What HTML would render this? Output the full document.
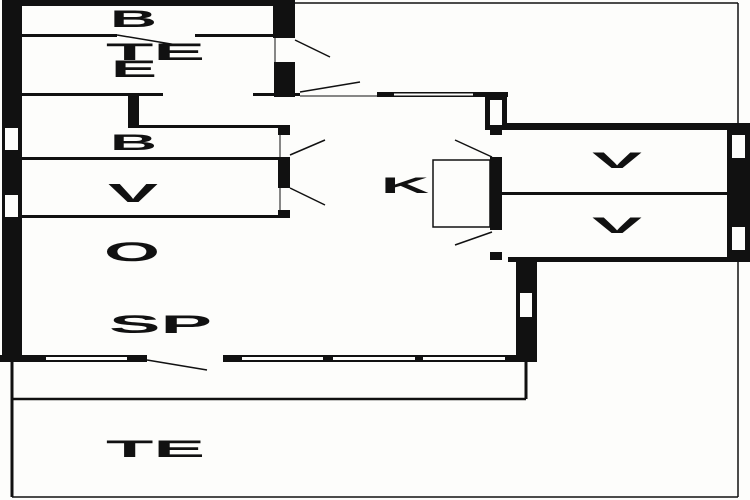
<!DOCTYPE html>
<html><head><meta charset="utf-8"><style>
html,body{margin:0;padding:0;background:#fdfdfb;}
svg{display:block;}
text{font-family:"Liberation Sans",sans-serif;fill:#111;font-weight:bold;}
</style></head><body>
<svg width="750" height="500" viewBox="0 0 750 500" xmlns="http://www.w3.org/2000/svg">
<rect width="750" height="500" fill="#fdfdfb"/>
<g fill="#111">
<rect x="2" y="0" width="20" height="362"/>
<rect x="22" y="0" width="273" height="6"/>
<rect x="273" y="0" width="22" height="38"/>
<rect x="274" y="62" width="21" height="35"/>
<rect x="253" y="93" width="47" height="3"/>
<rect x="377" y="92" width="15" height="5"/>
<rect x="392" y="92" width="83" height="5"/>
<rect x="475" y="92" width="33" height="5"/>
<rect x="485" y="92" width="22" height="38"/>
<rect x="490" y="128" width="12" height="7"/>
<rect x="502" y="123" width="233" height="7"/>
<rect x="727" y="123" width="23" height="139"/>
<rect x="502" y="192" width="225" height="3"/>
<rect x="508" y="257" width="242" height="5"/>
<rect x="490" y="252" width="12" height="8"/>
<rect x="490" y="157" width="12" height="73"/>
<rect x="516" y="257" width="21" height="105"/>
<rect x="0" y="355" width="537" height="7"/>
<rect x="22" y="34" width="95" height="3"/>
<rect x="195" y="34" width="78" height="3"/>
<rect x="22" y="93" width="141" height="3"/>
<rect x="128" y="93" width="11" height="35"/>
<rect x="139" y="125" width="151" height="3"/>
<rect x="278" y="125" width="12" height="10"/>
<rect x="278" y="157" width="12" height="31"/>
<rect x="278" y="210" width="12" height="8"/>
<rect x="22" y="157" width="268" height="3"/>
<rect x="22" y="215" width="268" height="3"/>
</g>
<g fill="#fdfdfb">
<rect x="5" y="128" width="13" height="22"/>
<rect x="5" y="195" width="13" height="22"/>
<rect x="394" y="93.5" width="79" height="2"/>
<rect x="490" y="100" width="12" height="25"/>
<rect x="732" y="135" width="13" height="23"/>
<rect x="732" y="227" width="13" height="23"/>
<rect x="520" y="293" width="12" height="24"/>
<rect x="46" y="357" width="81" height="3"/>
<rect x="147" y="355" width="76" height="7"/>
<rect x="242" y="357" width="81" height="3"/>
<rect x="333" y="357" width="82" height="3"/>
<rect x="423" y="357" width="82" height="3"/>
</g>
<g stroke="#111" fill="none" stroke-width="1.5">
<line x1="295" y1="3" x2="738" y2="3"/>
<line x1="738" y1="3" x2="738" y2="123"/>
<line x1="738" y1="262" x2="738" y2="497"/>
<line x1="12" y1="497" x2="738" y2="497"/>
<line x1="12" y1="362" x2="12" y2="497" stroke-width="3"/>
<line x1="12" y1="399" x2="526" y2="399" stroke-width="2.5"/>
<line x1="526" y1="362" x2="526" y2="399" stroke-width="3"/>
<line x1="300" y1="96" x2="377" y2="96" stroke-width="1"/>
<line x1="117" y1="35" x2="177" y2="45"/>
<line x1="295" y1="40" x2="330" y2="57"/>
<line x1="300" y1="92" x2="360" y2="82"/>
<line x1="290" y1="155" x2="325" y2="140"/>
<line x1="290" y1="188" x2="325" y2="205"/>
<line x1="455" y1="140" x2="492" y2="157"/>
<line x1="455" y1="245" x2="492" y2="232"/>
<line x1="147" y1="360" x2="207" y2="370"/>
<line x1="275" y1="38" x2="275" y2="62" stroke-width="1"/>
<line x1="280" y1="135" x2="280" y2="157" stroke-width="1"/>
<line x1="280" y1="188" x2="280" y2="210" stroke-width="1"/>
<rect x="433" y="160" width="57" height="67"/>
</g>
<text x="110" y="27" font-size="24" textLength="47" lengthAdjust="spacingAndGlyphs">B</text>
<text x="106" y="60" font-size="24" textLength="99" lengthAdjust="spacingAndGlyphs">TE</text>
<text x="111" y="77" font-size="24" textLength="46" lengthAdjust="spacingAndGlyphs">E</text>
<text x="110" y="150" font-size="22" textLength="47" lengthAdjust="spacingAndGlyphs">B</text>
<text x="108" y="202" font-size="26" textLength="50" lengthAdjust="spacingAndGlyphs">V</text>
<text x="104" y="261" font-size="27" textLength="56" lengthAdjust="spacingAndGlyphs">O</text>
<text x="109" y="333" font-size="25" textLength="103" lengthAdjust="spacingAndGlyphs">SP</text>
<text x="106" y="457" font-size="24" textLength="99" lengthAdjust="spacingAndGlyphs">TE</text>
<text x="381" y="193" font-size="22" textLength="48" lengthAdjust="spacingAndGlyphs">K</text>
<text x="592" y="168" font-size="22" textLength="50" lengthAdjust="spacingAndGlyphs">V</text>
<text x="592" y="233" font-size="22" textLength="50" lengthAdjust="spacingAndGlyphs">V</text>
</svg>
</body></html>
